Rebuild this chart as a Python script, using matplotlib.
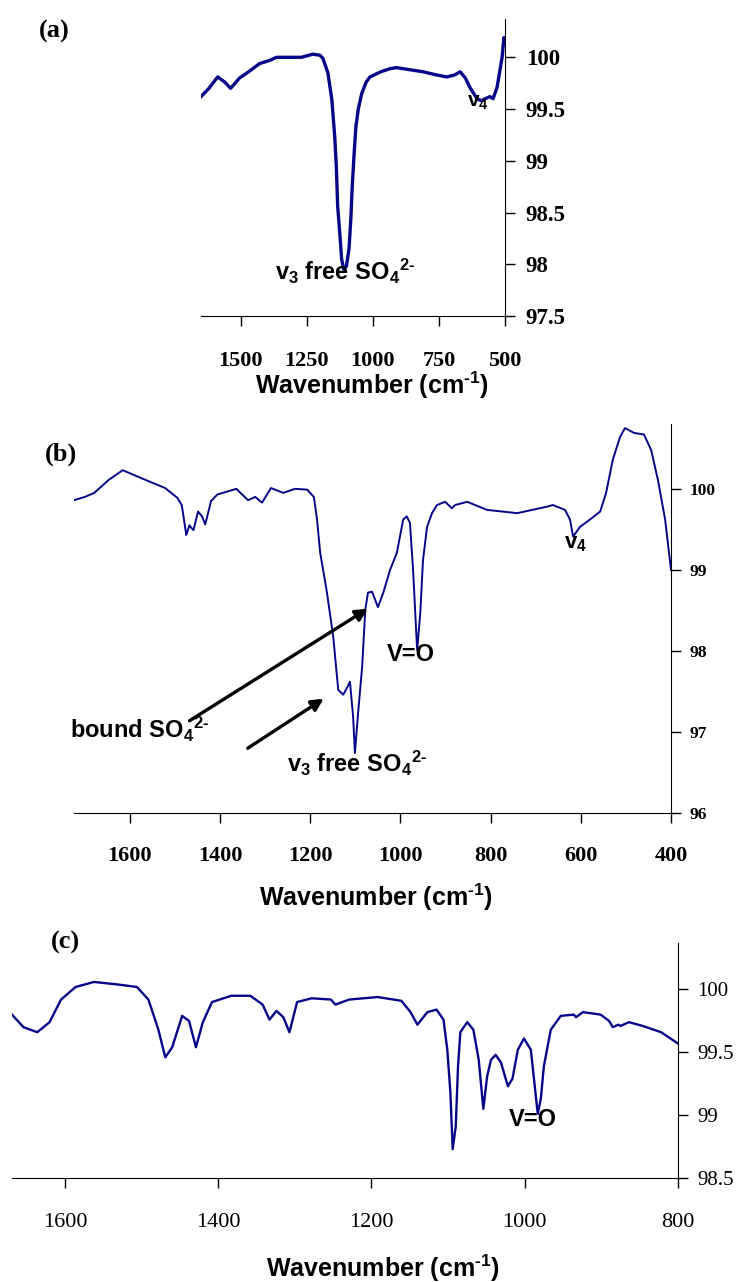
import matplotlib
matplotlib.use('Agg')
import matplotlib.pyplot as plt
from matplotlib.ticker import FormatStrFormatter

plt.rcParams['mathtext.fontset'] = 'custom'
plt.rcParams['mathtext.rm'] = 'Liberation Sans:bold'
plt.rcParams['mathtext.it'] = 'Liberation Sans:bold'
plt.rcParams['mathtext.bf'] = 'Liberation Sans:bold'
plt.rcParams['mathtext.default'] = 'rm'

# panel (a)
wn_a = [1650, 1620, 1587, 1560, 1538,
        1504, 1470, 1428, 1390, 1364,
        1314, 1270, 1227, 1200, 1189,
        1170, 1155, 1144, 1138, 1133,
        1125, 1118, 1110, 1100, 1090,
        1083, 1078, 1070, 1064, 1055,
        1042, 1025, 1011, 970, 935,
        910, 860, 810, 760, 720,
        690, 670, 650, 633, 606,
        590, 575, 557, 545, 530,
        511, 504, 500]
t_a = [99.62, 99.70, 99.81, 99.76, 99.70,
       99.80, 99.86, 99.94, 99.97, 100.0,
       100.0, 100.0, 100.03, 100.02, 99.99,
       99.85, 99.59, 99.23, 98.94, 98.56,
       98.30, 98.05, 97.95, 97.98, 98.15,
       98.45, 98.75, 99.10, 99.33, 99.50,
       99.65, 99.76, 99.81, 99.86, 99.89,
       99.90, 99.88, 99.86, 99.83, 99.81,
       99.83, 99.86, 99.80, 99.71, 99.60,
       99.58, 99.60, 99.62, 99.60, 99.71,
       100.0, 100.19, 100.13]
xticks_a = [1500, 1250, 1000, 750, 500]
yticks_a = [97.5, 98, 98.5, 99, 99.5, 100]

# panel (b)
wn_b = [1724, 1700, 1679, 1647, 1616,
        1574, 1522, 1495, 1485, 1475,
        1468, 1464, 1459, 1449, 1440,
        1433, 1420, 1406, 1364, 1338,
        1322, 1307, 1287, 1260, 1234,
        1207, 1192, 1185, 1178, 1163,
        1149, 1138, 1127, 1118, 1112,
        1105, 1101, 1094, 1085, 1078,
        1072, 1063, 1056, 1050, 1038,
        1023, 1008, 994, 986, 979,
        972, 963, 956, 950, 941,
        930, 919, 901, 886, 879,
        852, 808, 741, 675, 662,
        635, 624, 617, 602, 580,
        557, 544, 529, 513, 502,
        482, 460, 444, 429, 413,
        400]
t_b = [99.86, 99.90, 99.95, 100.11, 100.23,
       100.13, 100.01, 99.89, 99.80, 99.43,
       99.55, 99.52, 99.49, 99.72, 99.66,
       99.56, 99.85, 99.93, 100.0, 99.86,
       99.90, 99.83, 100.01, 99.95, 100.0,
       99.99, 99.90, 99.62, 99.21, 98.72,
       98.17, 97.52, 97.46, 97.55, 97.62,
       97.19, 96.74, 97.23, 97.80, 98.51,
       98.72, 98.73, 98.63, 98.54, 98.72,
       99.0, 99.21, 99.62, 99.66, 99.58,
       99.0, 98.01, 98.47, 99.12, 99.53,
       99.70, 99.80, 99.84, 99.76, 99.80,
       99.84, 99.74, 99.70, 99.78, 99.80,
       99.74, 99.62, 99.41, 99.53, 99.62,
       99.72, 99.95, 100.36, 100.64, 100.75,
       100.69, 100.67, 100.48, 100.11, 99.62,
       99.0]
xticks_b = [1600, 1400, 1200, 1000, 800, 600, 400]
yticks_b = [96, 97, 98, 99, 100]

# panel (c)
wn_c = [1669, 1654, 1636, 1620, 1605,
        1586, 1562, 1531, 1506, 1491,
        1478, 1469, 1460, 1447, 1438,
        1429, 1420, 1408, 1383, 1358,
        1342, 1333, 1324, 1315, 1307,
        1297, 1278, 1253, 1247, 1229,
        1192, 1161, 1149, 1140, 1127,
        1115, 1106, 1101, 1097, 1094,
        1090, 1087, 1084, 1075, 1067,
        1060, 1054, 1049, 1044, 1038,
        1031, 1022, 1016, 1009, 1001,
        992, 986, 983, 979, 975,
        966, 953, 936, 933, 924,
        901, 890, 885, 878, 875,
        864, 846, 822, 800]
t_c = [99.80, 99.70, 99.66, 99.74, 99.92,
       100.02, 100.06, 100.04, 100.02, 99.92,
       99.68, 99.46, 99.54, 99.79, 99.75,
       99.54, 99.74, 99.90, 99.95, 99.95,
       99.88, 99.76, 99.83, 99.78, 99.66,
       99.90, 99.93, 99.92, 99.88, 99.92,
       99.94, 99.91, 99.82, 99.72, 99.82,
       99.84, 99.76, 99.52, 99.18, 98.73,
       98.91, 99.39, 99.66, 99.74, 99.68,
       99.44, 99.05, 99.31, 99.44, 99.48,
       99.42, 99.23, 99.29, 99.52, 99.61,
       99.52, 99.18, 99.01, 99.13, 99.39,
       99.68, 99.79, 99.80, 99.78, 99.82,
       99.80, 99.75, 99.70, 99.72, 99.71,
       99.74, 99.71, 99.66, 99.57]
xticks_c = [1600, 1400, 1200, 1000, 800]
yticks_c = [98.5, 99, 99.5, 100]

W, H = 736, 1282
line_color = '#06068a'
serif = 'Liberation Serif'
sans = 'Liberation Sans'
free_label = r'v$_3$ free SO$_4$$^{2\text{-}}$'
bound_label = r'bound SO$_4$$^{2\text{-}}$'
x_title = r'Wavenumber (cm$^{\text{-}1}$)'


def box(x0, y0, x1, y1):
    # pixel box (top-left origin) -> figure fraction
    return [x0 / W, 1 - y1 / H, (x1 - x0) / W, (y1 - y0) / H]


def style(ax, xticks, yticks, weight, xsize, ysize, xpad, ypad):
    ax.spines['top'].set_visible(False)
    ax.spines['left'].set_visible(False)
    ax.yaxis.tick_right()
    ax.set_xticks(xticks)
    ax.set_yticks(yticks)
    ax.yaxis.set_major_formatter(FormatStrFormatter('%g'))
    ax.tick_params(direction='out', length=7, width=1, colors='black')
    ax.tick_params(axis='x', pad=xpad)
    ax.tick_params(axis='y', pad=ypad)
    for lbl in ax.get_xticklabels():
        lbl.set_fontfamily(serif)
        lbl.set_fontweight(weight)
        lbl.set_fontsize(xsize)
    for lbl in ax.get_yticklabels():
        lbl.set_fontfamily(serif)
        lbl.set_fontweight(weight)
        lbl.set_fontsize(ysize)


fig = plt.figure(figsize=(W / 100, H / 100), dpi=100)

# (a)
ax1 = fig.add_axes(box(201, 19, 505, 316))
ax1.plot(wn_a, t_a, color=line_color, lw=2.4)
ax1.set_xlim(1650, 500)
ax1.set_ylim(97.5, 100.37)
style(ax1, xticks_a, yticks_a, 'bold', 16, 16.5, 18, 8)
ax1.text(1371, 97.85, free_label, fontsize=17, fontweight='bold',
         family=sans, ha='left', va='baseline')
ax1.text(644, 99.52, r'v$_4$', fontsize=15, fontweight='bold', family=sans,
         ha='left', va='baseline')

# (b)
ax2 = fig.add_axes(box(74, 424, 671, 813))
ax2.plot(wn_b, t_b, color=line_color, lw=1.4)
ax2.set_xlim(1724, 400)
ax2.set_ylim(96, 100.8)
style(ax2, xticks_b, yticks_b, 'bold', 16, 12.5, 17, 6.5)
ax2.text(1732, 96.93, bound_label, fontsize=17, fontweight='bold',
         family=sans, ha='left', va='baseline')
ax2.text(1251, 96.51, free_label, fontsize=17, fontweight='bold',
         family=sans, ha='left', va='baseline')
ax2.text(1030, 97.88, 'V=O', fontsize=17, fontweight='bold', family=sans,
         ha='left', va='baseline')
ax2.text(637, 99.27, r'v$_4$', fontsize=16, fontweight='bold', family=sans,
         ha='left', va='baseline')
ax2.annotate('', xy=(1067, 98.54), xytext=(1473, 97.12),
             arrowprops=dict(arrowstyle='-|>', lw=2.4, color='black', mutation_scale=18))
ax2.annotate('', xy=(1165, 97.43), xytext=(1344, 96.78),
             arrowprops=dict(arrowstyle='-|>', lw=2.4, color='black', mutation_scale=18))

# (c)
ax3 = fig.add_axes(box(12, 943, 678, 1178))
ax3.plot(wn_c, t_c, color=line_color, lw=1.7)
ax3.set_xlim(1669, 800)
ax3.set_ylim(98.5, 100.37)
style(ax3, xticks_c, yticks_c, 'normal', 16, 15, 18, 7)
ax3.text(1021, 98.91, 'V=O', fontsize=17, fontweight='bold', family=sans,
         ha='left', va='baseline')

# axis titles and panel letters
for xc, yc in [(372, 385), (376, 897), (383, 1268)]:
    fig.text(xc / W, 1 - yc / H, x_title, fontsize=18,
             fontweight='bold', family=sans, ha='center', va='center')
for lab, xc, yc in [('(a)', 54, 31), ('(b)', 61, 454), ('(c)', 65, 942)]:
    fig.text(xc / W, 1 - yc / H, lab, fontsize=19, fontweight='bold',
             family=serif, ha='center', va='center')

fig.savefig('out.png', dpi=100)
